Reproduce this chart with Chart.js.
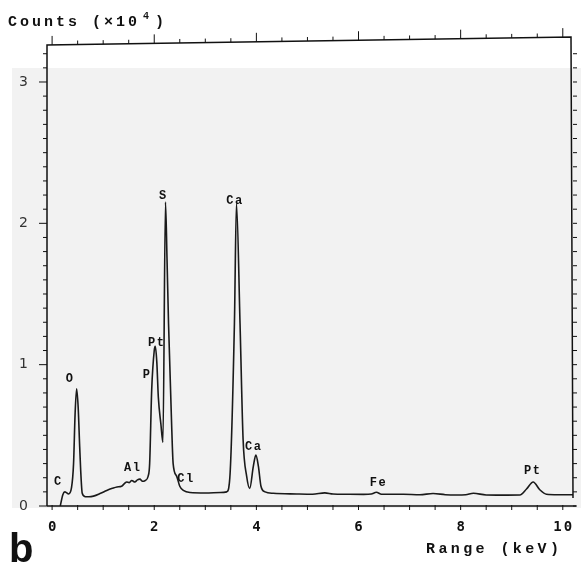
<!DOCTYPE html>
<html>
<head>
<meta charset="utf-8">
<script src="https://cdn.jsdelivr.net/npm/chart.js@4"></script>
<style>
    body { margin: 0; background: #fff; }
</style>
</head>
<body>
<canvas id="chart" width="581" height="567"></canvas>
<script>
let object = document.getElementById("chart");

// spectrum (keV, counts x10^4)
let energy = [0.16, 0.21, 0.25, 0.28, 0.32, 0.38, 0.42, 0.45, 0.48, 0.51, 0.54, 0.56, 0.59, 0.65, 0.72, 0.81, 0.95,
    1.07, 1.18, 1.27, 1.36, 1.42, 1.46, 1.51, 1.56, 1.62, 1.67, 1.72, 1.77, 1.82, 1.88, 1.91, 1.95, 2.0, 2.02, 2.05,
    2.08, 2.13, 2.17, 2.22, 2.25, 2.28, 2.34, 2.37, 2.44, 2.5, 2.57, 2.7, 3.0, 3.3, 3.42, 3.48, 3.57, 3.61, 3.68,
    3.74, 3.81, 3.87, 3.94, 3.99, 4.04, 4.09, 4.17, 4.33, 4.79, 5.1, 5.34, 5.5, 5.77, 6.1, 6.25, 6.35, 6.45, 6.88,
    7.2, 7.46, 7.7, 7.92, 8.1, 8.25, 8.5, 8.8, 9.16, 9.29, 9.42, 9.55, 9.68, 9.9, 10.14, 10.2]
let counts = [0.0, 0.08, 0.10, 0.095, 0.085, 0.13, 0.3, 0.65, 0.83, 0.7, 0.42, 0.25, 0.09, 0.066, 0.065, 0.07, 0.09,
    0.11, 0.125, 0.135, 0.14, 0.16, 0.17, 0.165, 0.18, 0.17, 0.185, 0.19, 0.175, 0.18, 0.21, 0.3, 0.82, 1.1, 1.13, 1.02,
    0.77, 0.58, 0.45, 2.15, 1.75, 1.29, 0.58, 0.3, 0.21, 0.14, 0.11, 0.095, 0.092, 0.095, 0.1, 0.2, 1.29, 2.14, 1.29,
    0.47, 0.21, 0.125, 0.28, 0.36, 0.28, 0.14, 0.1, 0.09, 0.085, 0.083, 0.093, 0.085, 0.083, 0.082, 0.085, 0.097, 0.083, 0.083,
    0.08, 0.088, 0.08, 0.078, 0.08, 0.09, 0.078, 0.077, 0.078, 0.12, 0.17, 0.115, 0.083, 0.08, 0.08, 0.08]

let xTicks = [0, 2, 4, 6, 8, 10]
let yTicks = [0, 1, 2, 3]

// element labels and where they sit (keV, counts)
let peakNames = ["C", "O", "Al", "P", "Pt", "S", "Cl", "Ca", "Ca", "Fe", "Pt"]
let peakKeV = [0.12, 0.35, 1.58, 1.86, 2.05, 2.18, 2.62, 3.58, 3.95, 6.39, 9.41]
let peakCounts = [0.17, 0.9, 0.27, 0.93, 1.15, 2.19, 0.19, 2.16, 0.42, 0.165, 0.25]

let points = []
energy.forEach((e, i) => {
    points.push({ x: e, y: counts[i] })
});

function text(ctx, str, x, y, font, align, spacing) {
    ctx.font = font
    ctx.textAlign = align
    ctx.letterSpacing = (spacing || 0) + "px"
    ctx.fillText(str, x, y)
    ctx.letterSpacing = "0px"
}

let paper = {
    id: "paper",
    beforeDraw(chart) {
        let ctx = chart.ctx
        ctx.save()
        ctx.fillStyle = "#f2f2f2"
        ctx.fillRect(12, 68, 569, 440)
        ctx.restore()
    },
    afterDraw(chart) {
        let ctx = chart.ctx
        let a = chart.chartArea
        let x = chart.scales.x
        let y = chart.scales.y
        ctx.save()
        ctx.strokeStyle = "#111"
        ctx.fillStyle = "#111"
        ctx.lineWidth = 1.5

        // frame (top edge is a little skewed on the scan)
        ctx.beginPath()
        ctx.moveTo(a.left, a.bottom)
        ctx.lineTo(a.left, a.top + 4)
        ctx.lineTo(a.right - 2, a.top - 4)
        ctx.lineTo(a.right, a.bottom - 8)
        ctx.moveTo(a.left, a.bottom)
        ctx.lineTo(a.right + 3, a.bottom)
        ctx.stroke()

        ctx.lineWidth = 1
        ctx.beginPath()
        for (let v = 0; v <= 10.01; v += 0.5) {
            let px = x.getPixelForValue(v)
            // bottom ticks
            ctx.moveTo(px, a.bottom - 1)
            ctx.lineTo(px, a.bottom + 4)
            // top ticks
            let t = a.top + 4 - 8 * (px - a.left) / (a.right - 2 - a.left)
            let len = Math.abs(v % 2) < 0.01 ? 9 : 4
            ctx.moveTo(px, t)
            ctx.lineTo(px, t - len)
        }
        for (let v = 0; v <= 3.25; v += 0.1) {
            let py = y.getPixelForValue(v)
            let major = Math.abs(v - Math.round(v)) < 0.01
            ctx.moveTo(a.left, py)
            ctx.lineTo(a.left - (major ? 8 : 4), py)
            ctx.moveTo(a.right, py)
            ctx.lineTo(a.right + 4, py)
        }
        ctx.stroke()

        // tick labels
        ctx.textBaseline = "middle"
        xTicks.forEach(v => {
            text(ctx, String(v), x.getPixelForValue(v) + 1, a.bottom + 21, "bold 14px 'DejaVu Sans Mono'", "center", 2)
        });
        ctx.fillStyle = "#333"
        yTicks.forEach(v => {
            text(ctx, String(v), 28, y.getPixelForValue(v), "14px 'DejaVu Sans'", "right", 0)
        });

        // element labels
        ctx.fillStyle = "#111"
        peakNames.forEach((n, i) => {
            text(ctx, n, x.getPixelForValue(peakKeV[i]), y.getPixelForValue(peakCounts[i]), "bold 12px 'Liberation Mono'", "center", 1.5)
        });

        // axis titles
        ctx.textBaseline = "alphabetic"
        text(ctx, "Counts (×10", 8, 26, "bold 15px 'Liberation Mono'", "left", 3)
        text(ctx, "4", 143, 19, "bold 10px 'Liberation Mono'", "left", 0)
        text(ctx, ")", 155, 26, "bold 15px 'Liberation Mono'", "left", 0)
        text(ctx, "Range (keV)", 426, 553, "bold 15px 'Liberation Mono'", "left", 3.4)
        text(ctx, "b", 9, 562, "bold 40px 'Liberation Sans'", "left", 0)
        ctx.restore()
    }
}

let config = {
    type: "line",
    data: {
        datasets: [
            {
                label: "spectrum",
                data: points,
                borderColor: "#1a1a1a",
                borderWidth: 1.6,
                pointRadius: 0,
                fill: false,
                cubicInterpolationMode: "monotone"
            }
        ]
    },
    options: {
        responsive: false,
        animation: false,
        layout: {
            padding: { left: 47, top: 41, right: 8, bottom: 61 }
        },
        plugins: {
            legend: { display: false },
            tooltip: { enabled: false }
        },
        scales: {
            x: { type: "linear", min: -0.1, max: 10.2, display: false },
            y: { type: "linear", min: 0, max: 3.29, display: false }
        }
    },
    plugins: [paper]
}
let chart = new Chart(object, config)
</script>
</body>
</html>
